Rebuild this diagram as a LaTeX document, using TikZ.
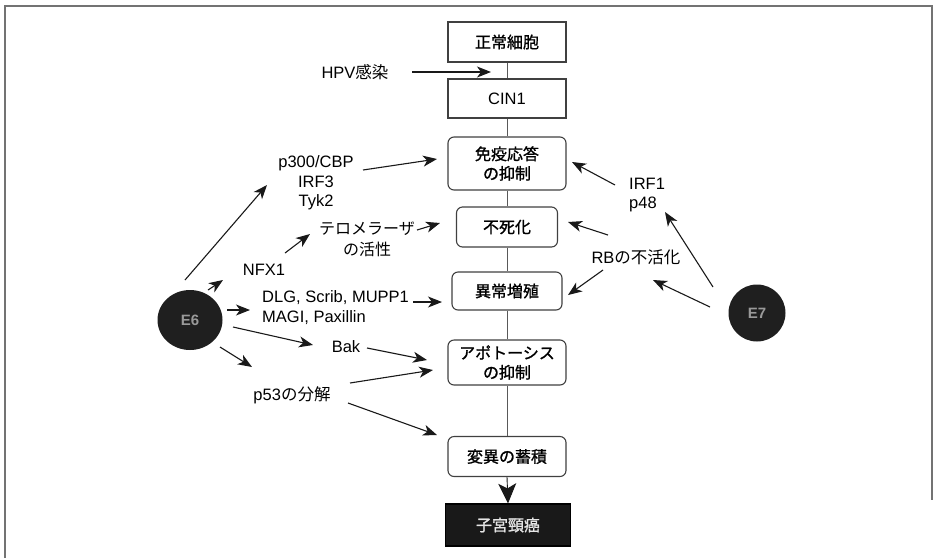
\documentclass[tikz,border=0pt]{standalone}
\usepackage{fontspec}
\setmainfont{Liberation Sans}
\newfontfamily\jp{Noto Sans CJK JP}
\newfontfamily\jpb[FakeBold=1.2]{Noto Sans CJK JP}
\usetikzlibrary{arrows.meta,shapes.geometric}
\tikzset{
  stagebox/.style={draw=black!75, line width=1.1pt, fill=white, minimum width=#1, inner sep=2pt, align=center, font=\jpb\fontsize{16}{19.5}\selectfont},
  stagebox/.default=118pt,
  roundbox/.style={stagebox=#1, rounded corners=6pt},
  roundbox/.default=118pt,
  lbl/.style={inner sep=2pt, font=\fontsize{16.5}{19.5}\selectfont},
  arr/.style={draw=black!90, line width=1.1pt, -{Stealth[length=14pt,width=11pt,inset=4pt]}},
  vline/.style={draw=black!65, line width=0.9pt},
  virus/.style={ellipse, fill=black!88, minimum width=#1, minimum height=60pt, inner sep=0pt, text=black!40, font=\bfseries\fontsize{15}{15}\selectfont},
}
\begin{document}
\begin{tikzpicture}[x=1pt,y=-1pt]
\useasboundingbox (0,0) rectangle (934,558);
% frame
\draw[black!55, line width=1.4pt] (5,558) -- (5,6) -- (932,6) -- (932,500);

% main column
\node[stagebox, minimum height=40pt] (n1) at (507,42) {正常細胞};
\node[stagebox, minimum height=39pt, font=\fontsize{16.5}{19.5}\selectfont] (n2) at (507,98.5) {CIN1};
\node[roundbox, minimum height=53pt] (n3) at (507,163.5) {免疫応答\\の抑制};
\node[roundbox=101pt, minimum height=40pt] (n4) at (507,227) {不死化};
\node[roundbox=110pt, minimum height=38pt] (n5) at (507,291) {異常増殖};
\node[roundbox, minimum height=45pt] (n6) at (507,362.5) {アポトーシス\\の抑制};
\node[roundbox, minimum height=40pt] (n7) at (507,456.5) {変異の蓄積};
\node[stagebox=125pt, minimum height=42pt, fill=black!90, draw=black, text=black!10] (n8) at (508,525) {子宮頸癌};

\draw[vline] (n1.south) -- (n2.north);
\draw[vline] (n2.south) -- (n3.north);
\draw[vline] (n3.south) -- (n4.north);
\draw[vline] (n4.south) -- (n5.north);
\draw[vline] (n5.south) -- (n6.north);
\draw[vline] (n6.south) -- (n7.north);
\draw[vline, -{Stealth[length=20pt,width=18pt,inset=5pt]}, black!90] (n7.south) -- (n8.north);

% virus proteins
\node[virus=65pt] (e6) at (190,320) {E6};
\node[virus=57pt, minimum height=57pt] (e7) at (757,313) {E7};

% labels
\node[lbl] (hpv) at (355,72) {HPV{\jp 感染}};
\coordinate (hpvend) at (491,72);
\node[lbl, align=center] (grp1) at (316,183) {p300/CBP\\IRF3\\Tyk2};
\node[lbl, align=center, font=\jp\fontsize{16}{21}\selectfont] (telo) at (367,239) {テロメラーザ\\の活性};
\node[lbl] (nfx) at (264,270) {NFX1};
\node[lbl, align=left, anchor=west] (dlg) at (260,307.5) {DLG, Scrib, MUPP1\\MAGI, Paxillin};
\node[lbl] (bak) at (346,347) {Bak};
\node[lbl] (p53) at (292,395) {p53{\jp の分解}};
\node[lbl, align=left, anchor=west] (irf) at (627,195) {IRF1\\p48};
\node[lbl] (rb) at (636,257) {RB{\jp の不活化}};

% arrows
\draw[arr] ([shift={(57,0)}]hpv.center) -- (hpvend);
\draw[arr] ([shift={(47,-13)}]grp1.center) -- ([shift={(-70,-4.5)}]n3.center);
\draw[arr] ([shift={(-5,-40)}]e6.center) -- ([shift={(-49,2)}]grp1.center);
\draw[arr] ([shift={(21,-17)}]nfx.center) -- ([shift={(-57,-5)}]telo.center);
\draw[arr] ([shift={(18,-30)}]e6.center) -- ([shift={(-41,10)}]nfx.center);
\draw[arr] ([shift={(50,-9)}]telo.center) -- ([shift={(-67,-4)}]n4.center);
\draw[arr] ([shift={(37,-10)}]e6.center) -- ([shift={(-10,2.5)}]dlg.west);
\draw[arr] ([shift={(153,-5.5)}]dlg.west) -- ([shift={(-65,11)}]n5.center);
\draw[arr] ([shift={(43,7)}]e6.center) -- ([shift={(-33,-2)}]bak.center);
\draw[arr] ([shift={(21,1)}]bak.center) -- ([shift={(-80,-2.5)}]n6.center);
\draw[arr] ([shift={(30,27)}]e6.center) -- ([shift={(-40,-28)}]p53.center);
\draw[arr] ([shift={(58,-12)}]p53.center) -- ([shift={(-74,7.5)}]n6.center);
\draw[arr] ([shift={(56,8)}]p53.center) -- ([shift={(-70,-21.5)}]n7.center);
\draw[arr] ([shift={(-12,-10)}]irf.west) -- ([shift={(65,-1.5)}]n3.center);
\draw[arr] ([shift={(-28,-22)}]rb.center) -- ([shift={(61,-5)}]n4.center);
\draw[arr] ([shift={(-33,13)}]rb.center) -- ([shift={(61,4)}]n5.center);
\draw[arr] ([shift={(-44,-26)}]e7.center) -- ([shift={(38,17)}]irf.west);
\draw[arr] ([shift={(-47,-6)}]e7.center) -- ([shift={(17,23)}]rb.center);
\end{tikzpicture}
\end{document}
